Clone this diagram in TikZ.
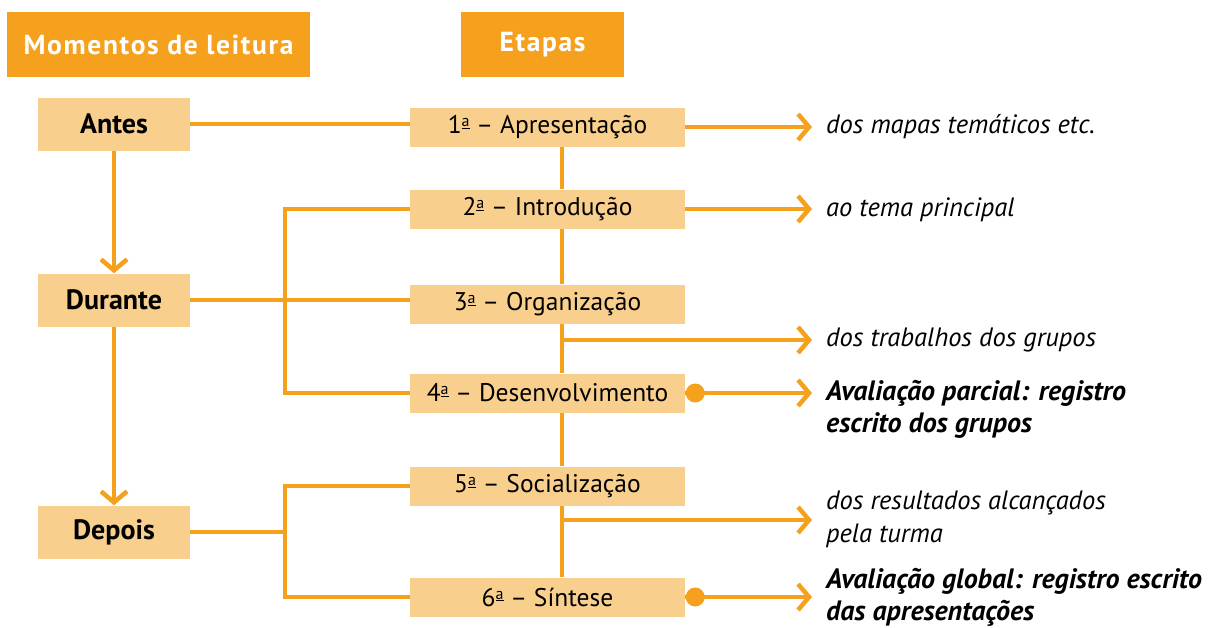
\documentclass[tikz,border=0pt]{standalone}
\usepackage{fontspec}
\setmainfont{PT Sans}
\newfontfamily\hdrfont{PT Sans Bold}[LetterSpace=6]
\usetikzlibrary{arrows.meta}
\definecolor{dor}{HTML}{F5A11E}
\definecolor{lor}{HTML}{F9CF8E}
\newcommand\ordA{\raisebox{0.55ex}{\underline{\fontsize{16}{16}\selectfont a}}}
\begin{document}
\begin{tikzpicture}[x=1pt,y=-1pt,
 head/.style={fill=dor,text=white,font=\hdrfont\fontsize{27.5}{30}\selectfont, minimum height=65pt, inner sep=0},
 mom/.style={fill=lor, minimum width=152pt, minimum height=53pt, font=\bfseries\fontsize{28}{30}\selectfont, inner sep=0},
 stage/.style={fill=lor, minimum width=275pt, minimum height=39pt, font=\fontsize{25.5}{28}\selectfont, inner sep=0},
 conn/.style={draw=dor, line width=4.5pt},
 arr/.style={conn, -{Straight Barb[length=11pt,width=26pt]}},
 note/.style={anchor=west, inner sep=0, font=\itshape\fontsize{26.5}{33}\selectfont, align=left},
 bnote/.style={note, font=\bfseries\itshape\fontsize{28}{32}\selectfont},
 dot/.style={circle, fill=dor, minimum size=19pt, inner sep=0},
]
\useasboundingbox (0,0) rectangle (1217,627);
\node[head, minimum width=303pt] (h1) at (158.5,44.5) {Momentos de leitura};
\node[head, minimum width=163pt] (h2) at (542.5,44.5) {Etapas};

\node[mom] (antes) at (114,124) {Antes};
\node[mom] (durante) at (114,300) {Durante};
\node[mom] (depois) at (114,532) {Depois};

\node[stage] (s1) at (547.5,127) {1\ordA{} – Apresentação};
\node[stage] (s2) at (547.5,209) {2\ordA{} – Introdução};
\node[stage] (s3) at (547.5,304) {3\ordA{} – Organização};
\node[stage] (s4) at (547.5,393) {4\ordA{} – Desenvolvimento};
\node[stage] (s5) at (547.5,486) {5\ordA{} – Socialização};
\node[stage] (s6) at (547.5,597) {6\ordA{} – Síntese};

\node[note] (t1) at (826,127) {dos mapas temáticos etc.};
\node[note] (t2) at (826,210) {ao tema principal};
\node[note] (t3) at (826,340) {dos trabalhos dos grupos};
\node[bnote] (t4) at (826,409) {Avaliação parcial: registro\\escrito dos grupos};
\node[note] (t5) at (826,519.5) {dos resultados alcançados\\pela turma};
\node[bnote] (t6) at (826,597.5) {Avaliação global: registro escrito\\das apresentações};

\coordinate (tx) at (812,0);
\coordinate (sp) at (562,0);
\coordinate (bl) at (285,0);
\coordinate (b3) at (562,340);
\coordinate (b5) at (562,520);

% left column
\draw[arr] (antes) -- (durante);
\draw[arr] (durante) -- (depois);
\draw[conn] (antes.east) -- (antes.east -| s1.west);
\draw[conn] (durante.east) -- (durante.east -| s3.west);
\draw[conn] (s2.west) -- (s2.west -| bl) -- (s4.west -| bl) -- (s4.west);
\draw[conn] (depois.east) -- (depois.east -| bl);
\draw[conn] (s5.west) -- (s5.west -| bl) -- (s6.west -| bl) -- (s6.west);

% spine
\draw[conn] (s1.south -| sp) -- (s2.north -| sp);
\draw[conn] (s2.south -| sp) -- (s3.north -| sp);
\draw[conn] (s3.south -| sp) -- (s4.north -| sp);
\draw[conn] (s4.south -| sp) -- (s5.north -| sp);
\draw[conn] (s5.south -| sp) -- (s6.north -| sp);

% right arrows
\draw[arr] (s1.east) -- (s1.east -| tx);
\draw[arr] (s2.east) -- (s2.east -| tx);
\draw[arr] (b3) -- (b3 -| tx);
\draw[arr] (s4.east) -- (s4.east -| tx);
\draw[arr] (b5) -- (b5 -| tx);
\draw[arr] (s6.east) -- (s6.east -| tx);
\node[dot] (d4) at ([xshift=10pt]s4.east) {};
\node[dot] (d6) at ([xshift=10pt]s6.east) {};
\end{tikzpicture}
\end{document}
